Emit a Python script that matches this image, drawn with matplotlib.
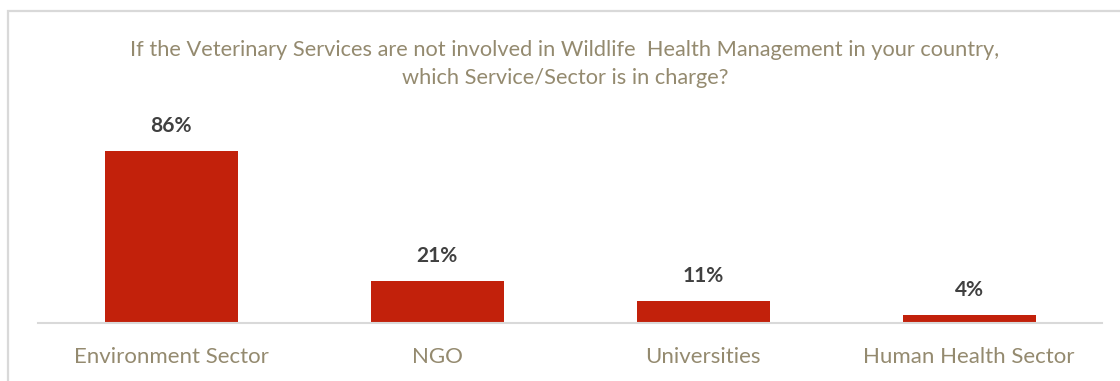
import matplotlib
matplotlib.use("Agg")
import matplotlib.pyplot as plt
from matplotlib.patches import Rectangle

categories = ["Environment Sector", "NGO", "Universities", "Human Health Sector"]
values = [86, 21, 11, 4]
value_labels = ["86%", "21%", "11%", "4%"]
title = ("If the Veterinary Services are not involved in Wildlife  Health Management in your country,\n"
         "which Service/Sector is in charge?")

plt.rcParams['font.family'] = ['Lato', 'DejaVu Sans']

W, H = 1120, 381
fig = plt.figure(figsize=(W / 100, H / 100), dpi=100)
fig.patch.set_facecolor("white")

# outer chart border (extends past right and bottom edges)
fig.add_artist(Rectangle((8 / W, -0.1), 1.2, (H - 11) / H + 0.1, transform=fig.transFigure,
                         fill=False, edgecolor="#D9D9D9", linewidth=1.6))

ax = fig.add_axes([38 / W, (H - 323) / H, 1064 / W, 200 / H])
x = list(range(len(categories)))
bars = ax.bar(x, values, width=0.5, color="#C2210B", zorder=3)
ax.set_xlim(-0.5, len(categories) - 0.5)
ax.set_ylim(0, 100)

for b, lab in zip(bars, value_labels):
    ax.annotate(lab, (b.get_x() + b.get_width() / 2, b.get_height()),
                xytext=(0, 11), textcoords="offset points", ha="center", va="bottom",
                fontsize=15, fontweight="bold", color="#404040")

ax.set_xticks(x)
ax.set_xticklabels(categories, fontsize=16, color="#948A6F")
ax.tick_params(axis="x", length=0, pad=17)
ax.set_yticks([])
for s in ["top", "right", "left"]:
    ax.spines[s].set_visible(False)
ax.spines["bottom"].set_color("#D9D9D9")
ax.spines["bottom"].set_linewidth(1.5)
ax.spines["bottom"].set_zorder(4)

fig.text(565 / W, 1 - 64 / H, title, ha="center", va="center", fontsize=15.7,
         color="#948A6F", linespacing=1.55)

fig.savefig("out.png", dpi=100, facecolor="white")
